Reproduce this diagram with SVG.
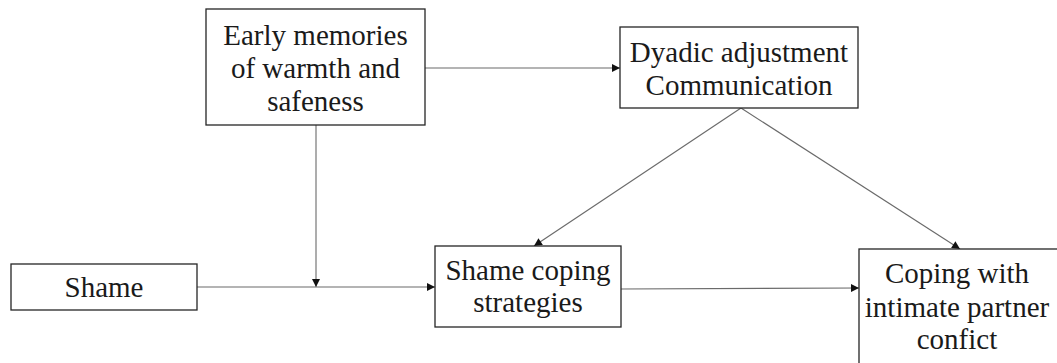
<svg xmlns="http://www.w3.org/2000/svg" width="1057" height="363" viewBox="0 0 1057 363">
<style>
.box{fill:#fff;stroke:#262626;stroke-width:1.3}
.lbl{font-family:"Liberation Serif","Times New Roman",serif;font-size:29px;fill:#1a1a1a;text-anchor:middle}
.edge{stroke:#6a6a6a;stroke-width:1.1;fill:none;marker-end:url(#ah)}
</style>
<defs>
<marker id="ah" viewBox="0 0 10 10" refX="10" refY="5" markerWidth="9" markerHeight="8" markerUnits="userSpaceOnUse" orient="auto">
<path d="M0,0 L10,5 L0,10 Z" fill="#111"/>
</marker>
</defs>
<g id="connectors">
<line class="edge" x1="425" y1="68" x2="620" y2="68"/>
<line class="edge" x1="316" y1="125" x2="316" y2="287"/>
<line class="edge" x1="197" y1="287" x2="435" y2="287"/>
<line class="edge" x1="741" y1="108" x2="534" y2="246"/>
<line class="edge" x1="741" y1="108" x2="960" y2="249"/>
<line class="edge" x1="621" y1="289" x2="859" y2="288"/>
</g>
<g id="early">
<rect class="box" x="206" y="9" width="219" height="116"/>
<text class="lbl" x="315.5" y="45">Early memories</text>
<text class="lbl" x="315.5" y="78">of warmth and</text>
<text class="lbl" x="315.5" y="111">safeness</text>
</g>
<g id="dyadic">
<rect class="box" x="620" y="27" width="238" height="81"/>
<text class="lbl" x="739" y="62">Dyadic adjustment</text>
<text class="lbl" x="739" y="95">Communication</text>
</g>
<g id="shame">
<rect class="box" x="11" y="264" width="186" height="46"/>
<text class="lbl" x="104" y="297">Shame</text>
</g>
<g id="coping">
<rect class="box" x="435" y="246" width="186" height="81"/>
<text class="lbl" x="528" y="280">Shame coping</text>
<text class="lbl" x="528" y="312">strategies</text>
</g>
<g id="conflict">
<rect class="box" x="859" y="249" width="250" height="150"/>
<text class="lbl" x="957" y="283">Coping with</text>
<text class="lbl" x="957" y="317">intimate partner</text>
<text class="lbl" x="957" y="349">confict</text>
</g>
</svg>
